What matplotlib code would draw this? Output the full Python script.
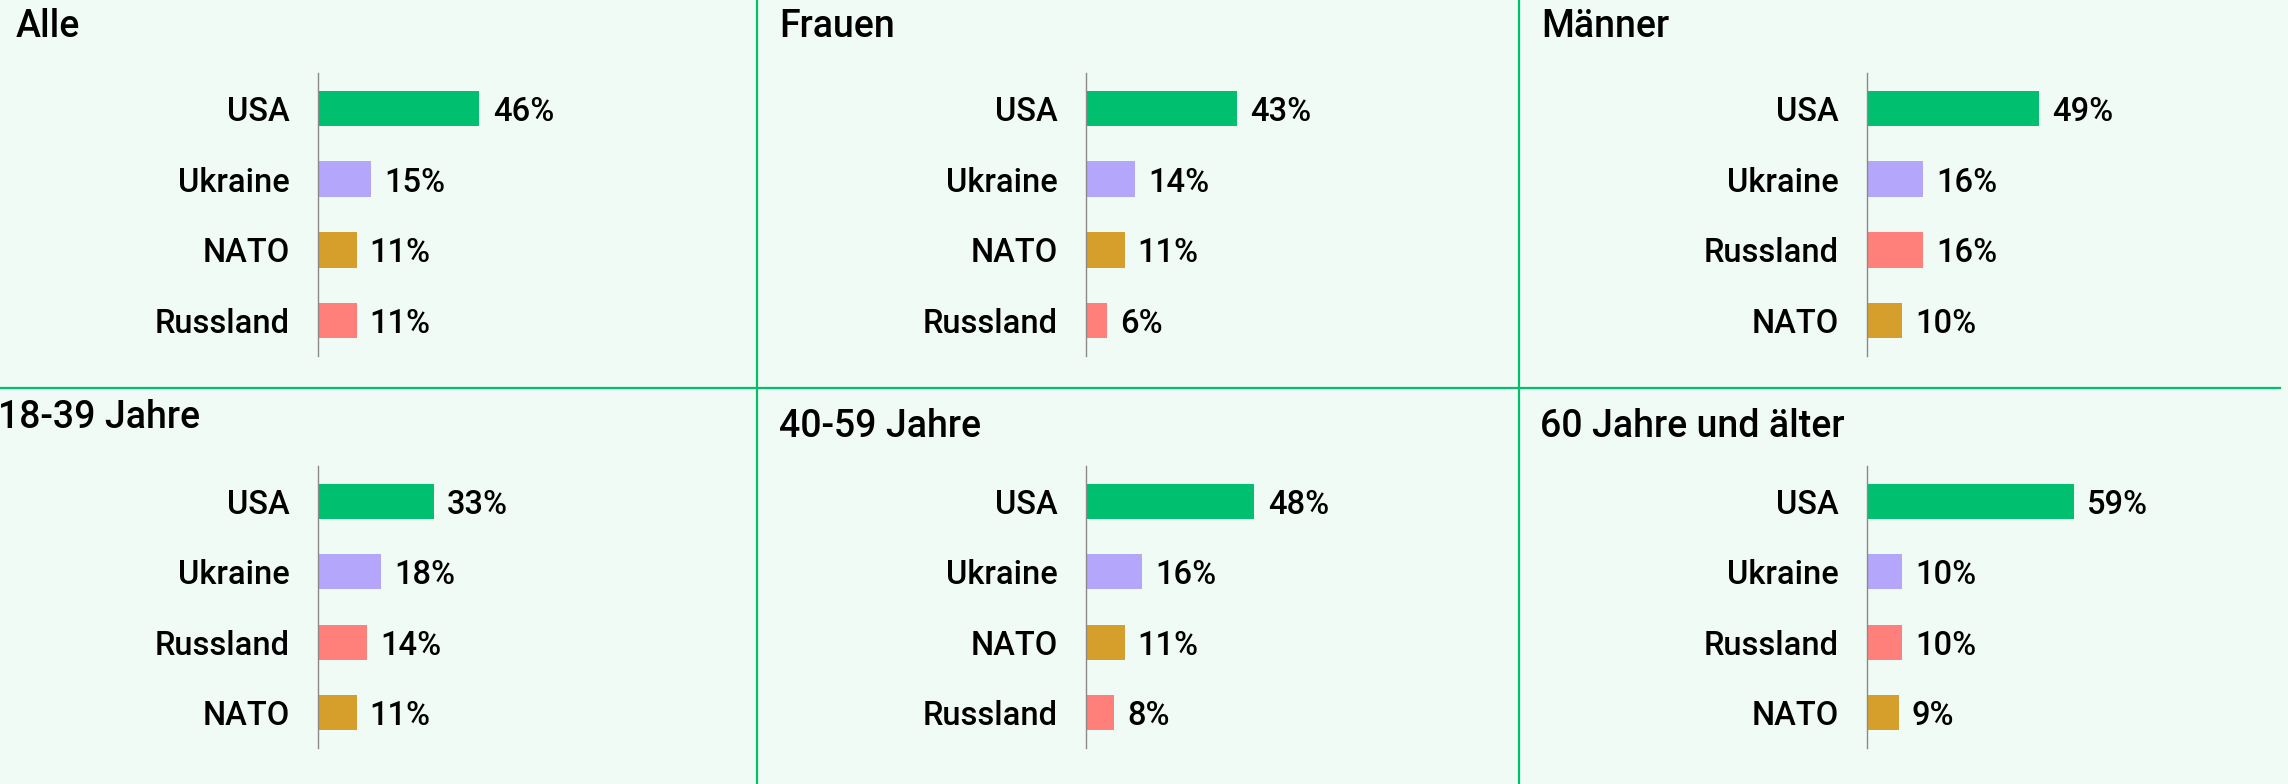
import matplotlib
matplotlib.use("Agg")
import matplotlib.pyplot as plt
from matplotlib.lines import Line2D

plt.rcParams["font.family"] = ["Roboto", "DejaVu Sans"]

W, H = 2288, 784
DPI = 100

colors = {
    "USA": "#00bf6f",
    "Ukraine": "#b3a6fb",
    "NATO": "#d69e2a",
    "Russland": "#ff7f7a",
}
bg = "#f1fbf5"
line_green = "#00c06d"

titles = ["Alle", "Frauen", "Männer", "18-39 Jahre", "40-59 Jahre", "60 Jahre und älter"]

alle_labels = ["USA", "Ukraine", "NATO", "Russland"]
alle_values = [46, 15, 11, 11]
frauen_labels = ["USA", "Ukraine", "NATO", "Russland"]
frauen_values = [43, 14, 11, 6]
maenner_labels = ["USA", "Ukraine", "Russland", "NATO"]
maenner_values = [49, 16, 16, 10]
jung_labels = ["USA", "Ukraine", "Russland", "NATO"]
jung_values = [33, 18, 14, 11]
mittel_labels = ["USA", "Ukraine", "NATO", "Russland"]
mittel_values = [48, 16, 11, 8]
alt_labels = ["USA", "Ukraine", "Russland", "NATO"]
alt_values = [59, 10, 10, 9]

panels = [
    (alle_labels, alle_values),
    (frauen_labels, frauen_values),
    (maenner_labels, maenner_values),
    (jung_labels, jung_values),
    (mittel_labels, mittel_values),
    (alt_labels, alt_values),
]

# pixel layout: axis x, axis top/bottom, title x, title baseline
axis_x = [318, 1086, 1867, 318, 1086, 1867]
axis_top = [73, 73, 73, 466, 466, 466]
axis_bot = [356, 356, 356, 748, 748, 748]
title_x = [16, 779, 1541, -2, 779, 1540]
title_base = [37, 37, 37, 428, 437, 437]
px_per_pct = 3.51
axis_w = 100 * px_per_pct

fig = plt.figure(figsize=(W / DPI, H / DPI), dpi=DPI, facecolor=bg)


def fx(x):
    return x / W


def fy(y):
    return 1 - y / H


for i, (labels, values) in enumerate(panels):
    ax = fig.add_axes([fx(axis_x[i]), fy(axis_bot[i]), axis_w / W,
                       (axis_bot[i] - axis_top[i]) / H])
    ax.set_facecolor("none")
    pos = range(len(labels))
    ax.barh(pos, values, height=0.5, color=[colors[l] for l in labels])
    ax.set_xlim(0, 100)
    ax.set_ylim(len(labels) - 0.5, -0.5)
    ax.set_yticks(list(pos))
    ax.set_yticklabels(labels, fontsize=23.5, fontweight="medium")
    ax.tick_params(axis="y", length=0, pad=20.5)
    ax.set_xticks([])
    for s in ["top", "right", "bottom"]:
        ax.spines[s].set_visible(False)
    ax.spines["left"].set_color("#8a8a8a")
    ax.spines["left"].set_linewidth(1)
    for p, v in zip(pos, values):
        ax.annotate(f"{v}%", (v, p), xytext=(9.5, 0), textcoords="offset points",
                    va="center_baseline", ha="left", fontsize=23.5,
                    fontweight="medium")
    fig.text(fx(title_x[i]), fy(title_base[i]), titles[i], fontsize=27,
             fontweight="medium", va="baseline", ha="left")

# grid lines between panels
fig.add_artist(Line2D([fx(0), fx(2280)], [fy(388), fy(388)], color=line_green,
                      lw=1.6, transform=fig.transFigure))
for x in [757, 1519]:
    fig.add_artist(Line2D([fx(x), fx(x)], [fy(0), fy(784)], color=line_green,
                          lw=1.6, transform=fig.transFigure))

fig.savefig("out.png", dpi=DPI, facecolor=bg)
